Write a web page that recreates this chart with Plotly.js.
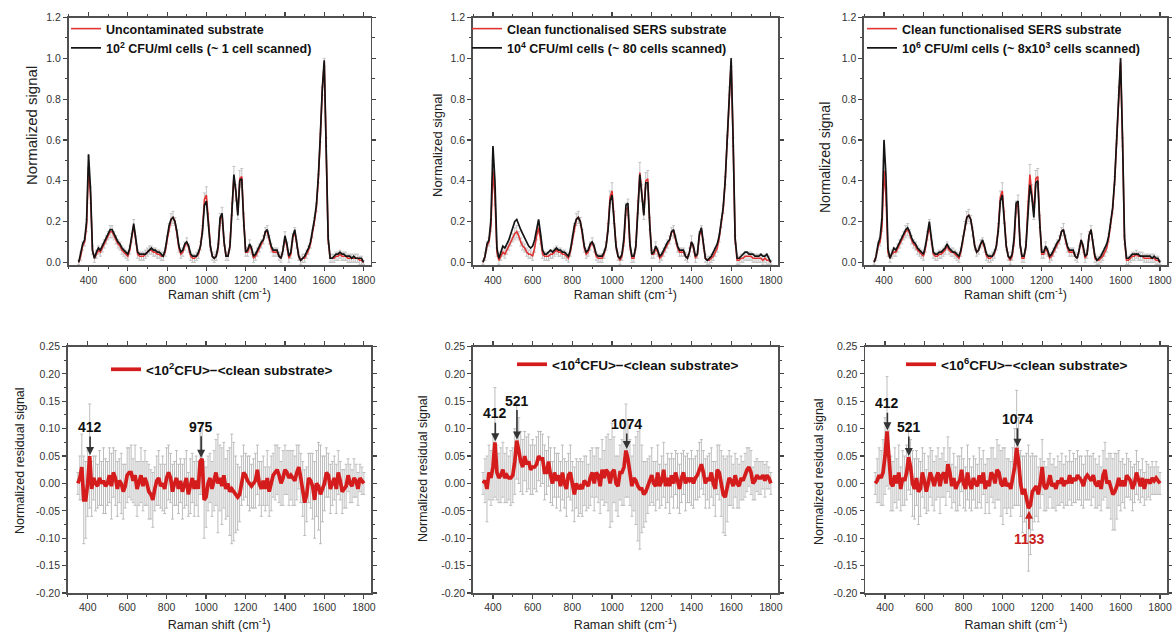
<!DOCTYPE html>
<html>
<head>
<meta charset="utf-8">
<script src="https://cdn.plot.ly/plotly-3.0.1.min.js"></script>
<style>html,body{margin:0;padding:0;background:#fff;}#chart{width:1172px;height:634px;}</style>
</head>
<body>
<div id="chart"></div>
<script>
// Raman shift sample positions (cm-1)
const ramanShift = [
 350,360,370,380,390,400,410,420,430,440,
 450,460,470,480,490,500,510,520,530,540,
 550,560,570,580,590,600,610,620,630,640,
 650,660,670,680,690,700,710,720,730,740,
 750,760,770,780,790,800,810,820,830,840,
 850,860,870,880,890,900,910,920,930,940,
 950,960,970,980,990,1000,1010,1020,1030,1040,
 1050,1060,1070,1080,1090,1100,1110,1120,1130,1140,
 1150,1160,1170,1180,1190,1200,1210,1220,1230,1240,
 1250,1260,1270,1280,1290,1300,1310,1320,1330,1340,
 1350,1360,1370,1380,1390,1400,1410,1420,1430,1440,
 1450,1460,1470,1480,1490,1500,1510,1520,1530,1540,
 1550,1560,1570,1580,1590,1600,1610,1620,1630,1640,
 1650,1660,1670,1680,1690,1700,1710,1720,1730,1740,
 1750,1760,1770,1780,1790,1800];

// Panel 1: uncontaminated substrate vs 10^2 CFU/ml
const uncontaminatedSubstrate = [
 0.00,0.03,0.08,0.10,0.18,0.47,0.33,0.06,0.02,0.04,
 0.06,0.05,0.07,0.09,0.11,0.13,0.15,0.15,0.13,0.11,
 0.09,0.08,0.06,0.05,0.04,0.03,0.06,0.12,0.18,0.11,
 0.04,0.03,0.03,0.03,0.04,0.05,0.06,0.06,0.05,0.05,
 0.04,0.04,0.03,0.03,0.05,0.11,0.17,0.21,0.22,0.20,
 0.14,0.07,0.04,0.05,0.08,0.10,0.07,0.03,0.02,0.02,
 0.03,0.04,0.08,0.16,0.31,0.33,0.21,0.08,0.03,0.02,
 0.03,0.07,0.21,0.23,0.10,0.03,0.03,0.08,0.26,0.42,
 0.34,0.24,0.41,0.42,0.21,0.05,0.05,0.08,0.06,0.02,
 0.03,0.05,0.07,0.09,0.11,0.15,0.15,0.11,0.07,0.05,
 0.05,0.05,0.03,0.02,0.06,0.12,0.08,0.02,0.04,0.12,
 0.15,0.09,0.03,0.01,0.02,0.02,0.04,0.06,0.09,0.14,
 0.20,0.27,0.41,0.61,0.84,0.98,0.59,0.11,0.02,0.02,
 0.02,0.03,0.03,0.04,0.03,0.03,0.03,0.02,0.02,0.02,
 0.02,0.02,0.02,0.01,0.01,0.00];
const cells1e2 = [
 0.00,0.04,0.09,0.11,0.20,0.53,0.36,0.06,0.02,0.05,
 0.07,0.06,0.08,0.10,0.12,0.14,0.16,0.16,0.14,0.12,
 0.10,0.09,0.07,0.06,0.05,0.04,0.07,0.13,0.19,0.12,
 0.05,0.04,0.04,0.04,0.04,0.05,0.06,0.07,0.06,0.06,
 0.05,0.05,0.04,0.03,0.06,0.12,0.18,0.21,0.22,0.20,
 0.15,0.08,0.05,0.06,0.09,0.10,0.08,0.04,0.03,0.03,
 0.03,0.05,0.08,0.15,0.28,0.30,0.20,0.08,0.03,0.02,
 0.03,0.08,0.22,0.24,0.10,0.03,0.03,0.08,0.25,0.43,
 0.35,0.23,0.40,0.41,0.20,0.05,0.06,0.09,0.07,0.03,
 0.04,0.06,0.08,0.10,0.11,0.15,0.16,0.12,0.08,0.06,
 0.06,0.06,0.03,0.02,0.06,0.13,0.09,0.03,0.05,0.13,
 0.16,0.10,0.03,0.01,0.02,0.03,0.05,0.07,0.10,0.15,
 0.21,0.28,0.42,0.62,0.85,0.99,0.60,0.12,0.02,0.02,
 0.03,0.04,0.04,0.05,0.04,0.04,0.03,0.03,0.03,0.02,
 0.03,0.02,0.02,0.02,0.02,0.00];

// Panel 2: clean functionalised substrate vs 10^4 CFU/ml
const cleanSubstrate2 = [
 0.00,0.03,0.08,0.10,0.18,0.45,0.32,0.05,0.01,0.03,
 0.05,0.04,0.06,0.08,0.10,0.12,0.14,0.15,0.13,0.10,
 0.08,0.07,0.05,0.04,0.04,0.03,0.07,0.13,0.17,0.11,
 0.04,0.03,0.03,0.03,0.04,0.04,0.05,0.06,0.05,0.05,
 0.04,0.04,0.03,0.02,0.05,0.11,0.17,0.21,0.22,0.20,
 0.14,0.07,0.04,0.05,0.08,0.10,0.07,0.03,0.02,0.02,
 0.02,0.04,0.08,0.17,0.32,0.35,0.22,0.08,0.03,0.01,
 0.03,0.10,0.26,0.27,0.08,0.02,0.02,0.08,0.27,0.44,
 0.34,0.24,0.40,0.41,0.19,0.04,0.04,0.07,0.05,0.02,
 0.03,0.05,0.07,0.09,0.11,0.15,0.15,0.11,0.07,0.05,
 0.05,0.05,0.03,0.02,0.05,0.10,0.07,0.02,0.04,0.13,
 0.16,0.09,0.02,0.01,0.01,0.02,0.03,0.05,0.07,0.12,
 0.19,0.26,0.40,0.60,0.84,0.98,0.59,0.11,0.01,0.01,
 0.02,0.02,0.03,0.03,0.03,0.03,0.02,0.02,0.02,0.02,
 0.02,0.01,0.02,0.01,0.01,0.00];
const cells1e4 = [
 0.00,0.03,0.09,0.11,0.21,0.57,0.40,0.07,0.02,0.05,
 0.08,0.07,0.09,0.11,0.14,0.17,0.20,0.21,0.18,0.16,
 0.14,0.12,0.10,0.08,0.07,0.08,0.11,0.17,0.21,0.14,
 0.06,0.04,0.04,0.05,0.06,0.05,0.06,0.07,0.06,0.06,
 0.05,0.05,0.04,0.03,0.06,0.12,0.18,0.21,0.22,0.20,
 0.15,0.08,0.05,0.06,0.09,0.10,0.08,0.04,0.03,0.03,
 0.03,0.05,0.08,0.16,0.30,0.33,0.22,0.08,0.03,0.02,
 0.04,0.12,0.28,0.29,0.09,0.03,0.03,0.08,0.25,0.43,
 0.33,0.23,0.39,0.39,0.18,0.04,0.05,0.08,0.06,0.03,
 0.04,0.06,0.08,0.10,0.11,0.15,0.16,0.12,0.08,0.06,
 0.06,0.06,0.03,0.02,0.05,0.10,0.08,0.03,0.04,0.14,
 0.17,0.10,0.02,0.01,0.02,0.03,0.05,0.07,0.09,0.13,
 0.20,0.27,0.40,0.60,0.85,1.00,0.60,0.12,0.02,0.02,
 0.03,0.04,0.05,0.05,0.04,0.04,0.04,0.03,0.03,0.03,
 0.04,0.03,0.03,0.04,0.02,0.00];

// Panel 3: clean functionalised substrate vs 10^6 CFU/ml
const cleanSubstrate3 = [
 0.00,0.03,0.08,0.10,0.18,0.45,0.32,0.05,0.02,0.04,
 0.05,0.05,0.07,0.09,0.11,0.13,0.15,0.16,0.14,0.11,
 0.09,0.08,0.06,0.05,0.04,0.03,0.07,0.13,0.18,0.11,
 0.04,0.03,0.03,0.04,0.04,0.05,0.06,0.08,0.06,0.05,
 0.05,0.04,0.03,0.02,0.05,0.11,0.18,0.22,0.23,0.21,
 0.15,0.08,0.05,0.06,0.09,0.10,0.07,0.03,0.02,0.02,
 0.03,0.04,0.08,0.17,0.32,0.35,0.22,0.08,0.03,0.01,
 0.03,0.10,0.27,0.29,0.09,0.02,0.02,0.08,0.27,0.43,
 0.34,0.24,0.41,0.42,0.20,0.04,0.04,0.07,0.05,0.02,
 0.03,0.05,0.07,0.09,0.11,0.15,0.16,0.11,0.07,0.05,
 0.05,0.05,0.03,0.02,0.06,0.11,0.07,0.02,0.04,0.13,
 0.16,0.09,0.02,0.01,0.01,0.02,0.03,0.05,0.07,0.12,
 0.19,0.26,0.40,0.60,0.84,0.98,0.59,0.11,0.01,0.01,
 0.02,0.03,0.03,0.04,0.03,0.03,0.03,0.02,0.02,0.02,
 0.02,0.02,0.02,0.01,0.01,0.00];
const cells1e6 = [
 0.00,0.03,0.09,0.12,0.22,0.60,0.42,0.07,0.02,0.05,
 0.07,0.06,0.08,0.10,0.12,0.14,0.16,0.17,0.15,0.12,
 0.10,0.09,0.07,0.06,0.05,0.04,0.08,0.14,0.20,0.12,
 0.05,0.04,0.04,0.05,0.05,0.06,0.07,0.09,0.07,0.06,
 0.05,0.05,0.04,0.03,0.06,0.12,0.18,0.22,0.23,0.21,
 0.15,0.08,0.05,0.06,0.09,0.11,0.08,0.04,0.03,0.03,
 0.03,0.05,0.08,0.16,0.30,0.33,0.22,0.08,0.03,0.02,
 0.04,0.12,0.29,0.30,0.09,0.03,0.03,0.08,0.23,0.38,
 0.32,0.22,0.39,0.40,0.19,0.05,0.05,0.08,0.06,0.03,
 0.04,0.06,0.08,0.10,0.11,0.15,0.16,0.12,0.08,0.06,
 0.06,0.06,0.03,0.02,0.06,0.11,0.08,0.03,0.04,0.13,
 0.16,0.10,0.03,0.01,0.02,0.03,0.05,0.07,0.09,0.13,
 0.20,0.27,0.40,0.61,0.85,1.00,0.60,0.12,0.02,0.02,
 0.03,0.04,0.04,0.04,0.04,0.03,0.03,0.03,0.03,0.03,
 0.03,0.02,0.03,0.02,0.02,0.00];

// Standard deviation of the substrate spectra (grey bars, top row)
const substrateErr = [
 0.01,0.02,0.02,0.02,0.03,0.05,0.04,0.02,0.02,0.02,
 0.02,0.02,0.02,0.02,0.02,0.02,0.03,0.03,0.02,0.02,
 0.02,0.02,0.02,0.02,0.02,0.02,0.02,0.02,0.03,0.02,
 0.02,0.02,0.02,0.02,0.02,0.02,0.02,0.02,0.02,0.02,
 0.02,0.02,0.02,0.02,0.02,0.02,0.02,0.03,0.03,0.02,
 0.02,0.02,0.02,0.02,0.02,0.02,0.02,0.02,0.02,0.02,
 0.02,0.02,0.02,0.02,0.03,0.04,0.03,0.02,0.02,0.02,
 0.02,0.02,0.03,0.04,0.02,0.02,0.02,0.02,0.03,0.05,
 0.04,0.03,0.04,0.04,0.03,0.02,0.02,0.03,0.02,0.02,
 0.02,0.02,0.02,0.02,0.02,0.02,0.03,0.02,0.02,0.02,
 0.02,0.02,0.02,0.02,0.02,0.03,0.02,0.02,0.02,0.02,
 0.02,0.02,0.02,0.02,0.02,0.02,0.02,0.02,0.02,0.02,
 0.02,0.02,0.02,0.02,0.02,0.02,0.02,0.02,0.02,0.02,
 0.02,0.02,0.02,0.02,0.02,0.02,0.02,0.02,0.02,0.02,
 0.02,0.02,0.02,0.02,0.02,0.01];

// Residuals <cells> - <clean substrate> and their standard deviation
const residual1e2 = [
 0.000,0.010,0.030,-0.030,-0.030,0.000,0.050,-0.010,0.010,0.000,
 -0.005,0.010,0.000,0.005,-0.005,0.000,0.015,-0.005,0.020,0.010,
 -0.010,0.005,0.000,-0.015,-0.005,0.015,0.020,0.020,0.005,0.015,
 -0.010,0.000,0.015,-0.005,0.010,0.000,-0.015,-0.020,-0.030,-0.010,
 0.005,0.010,-0.005,0.000,-0.010,0.010,0.020,0.010,-0.015,0.000,
 0.010,-0.010,0.005,-0.015,0.000,0.010,-0.020,-0.005,0.010,-0.010,
 0.005,-0.010,0.040,0.045,-0.030,-0.025,0.000,0.010,-0.010,0.005,
 0.020,0.000,0.010,-0.005,0.015,-0.010,0.000,-0.015,-0.010,-0.015,
 -0.020,-0.025,-0.020,0.005,0.020,0.015,0.005,0.000,-0.005,0.000,
 0.005,0.025,0.000,-0.010,0.005,-0.010,0.010,-0.015,0.000,0.015,
 0.020,0.025,0.015,0.000,0.010,0.025,0.020,0.010,0.015,0.010,
 0.005,0.020,0.030,0.010,-0.010,-0.035,-0.020,0.010,0.005,-0.005,
 -0.030,0.000,-0.005,-0.020,-0.010,0.000,0.020,0.015,-0.010,0.000,
 0.010,-0.010,0.020,0.005,-0.015,-0.010,-0.005,0.015,0.000,-0.005,
 0.010,0.005,-0.010,0.010,0.005,0.000];
const residualErr1e2 = [
 0.02,0.04,0.06,0.08,0.07,0.06,0.095,0.05,0.04,0.05,
 0.04,0.05,0.04,0.06,0.05,0.04,0.05,0.06,0.045,0.05,
 0.05,0.04,0.055,0.05,0.04,0.05,0.045,0.05,0.04,0.055,
 0.05,0.04,0.05,0.045,0.05,0.04,0.05,0.045,0.05,0.04,
 0.045,0.05,0.04,0.05,0.045,0.055,0.05,0.045,0.05,0.04,
 0.05,0.045,0.04,0.05,0.045,0.05,0.04,0.05,0.045,0.05,
 0.045,0.05,0.06,0.065,0.07,0.055,0.05,0.045,0.05,0.055,
 0.06,0.09,0.06,0.07,0.06,0.055,0.06,0.08,0.10,0.09,
 0.07,0.06,0.05,0.045,0.05,0.04,0.045,0.05,0.04,0.045,
 0.05,0.045,0.04,0.05,0.045,0.04,0.05,0.045,0.05,0.04,
 0.05,0.045,0.05,0.04,0.05,0.045,0.04,0.05,0.045,0.05,
 0.045,0.05,0.04,0.045,0.05,0.06,0.05,0.045,0.05,0.06,
 0.07,0.06,0.08,0.09,0.06,0.05,0.045,0.04,0.045,0.04,
 0.04,0.045,0.04,0.035,0.04,0.035,0.04,0.03,0.035,0.03,
 0.035,0.03,0.03,0.025,0.025,0.02];
const residual1e4 = [
 0.000,0.005,-0.010,0.020,0.010,0.030,0.075,0.020,0.010,0.015,
 0.025,0.010,0.015,0.010,0.010,0.015,0.040,0.078,0.060,0.040,
 0.030,0.050,0.035,0.040,0.025,0.030,0.030,0.035,0.050,0.045,
 0.045,0.020,0.020,0.040,0.015,0.000,0.020,0.005,0.015,-0.005,
 0.020,0.000,-0.010,0.015,0.020,-0.005,-0.020,0.000,-0.010,-0.005,
 -0.010,0.005,0.000,-0.005,0.010,0.020,0.000,0.020,0.015,-0.005,
 0.025,0.010,0.025,0.020,0.000,0.020,0.025,0.000,-0.005,0.020,
 0.020,0.030,0.060,0.045,0.020,-0.005,0.010,0.005,-0.005,-0.010,
 -0.010,-0.020,-0.015,-0.005,0.005,0.015,0.000,-0.005,0.020,-0.005,
 0.005,0.025,-0.005,0.010,-0.005,0.015,0.000,0.020,0.005,-0.010,
 0.010,0.020,0.000,0.010,0.005,0.010,0.000,0.010,0.015,0.025,
 0.035,0.020,0.000,0.010,0.005,0.020,0.000,-0.010,0.025,0.020,
 0.000,-0.020,-0.025,-0.010,0.010,0.005,-0.005,0.015,0.000,-0.005,
 0.010,0.005,0.015,0.025,0.030,0.020,0.000,0.005,0.015,0.010,
 0.010,0.015,0.005,0.015,0.010,0.000];
const residualErr1e4 = [
 0.02,0.04,0.06,0.05,0.05,0.06,0.10,0.05,0.045,0.05,
 0.05,0.045,0.05,0.04,0.05,0.05,0.06,0.07,0.06,0.055,
 0.05,0.045,0.05,0.05,0.045,0.05,0.04,0.05,0.045,0.05,
 0.045,0.05,0.04,0.045,0.05,0.04,0.045,0.05,0.04,0.045,
 0.05,0.045,0.05,0.04,0.05,0.045,0.05,0.045,0.05,0.05,
 0.05,0.045,0.05,0.04,0.05,0.045,0.05,0.045,0.05,0.05,
 0.055,0.05,0.06,0.07,0.08,0.09,0.06,0.05,0.055,0.05,
 0.06,0.07,0.085,0.07,0.06,0.055,0.06,0.08,0.10,0.11,
 0.08,0.06,0.055,0.05,0.045,0.05,0.04,0.045,0.05,0.04,
 0.045,0.05,0.04,0.045,0.05,0.04,0.045,0.04,0.05,0.045,
 0.045,0.04,0.05,0.045,0.04,0.05,0.045,0.04,0.045,0.05,
 0.045,0.04,0.045,0.04,0.05,0.045,0.04,0.05,0.045,0.05,
 0.06,0.07,0.07,0.06,0.05,0.045,0.04,0.04,0.045,0.04,
 0.04,0.035,0.04,0.04,0.035,0.04,0.03,0.035,0.03,0.03,
 0.03,0.025,0.03,0.025,0.02,0.02];
const residual1e6 = [
 0.000,0.005,0.015,0.010,0.020,0.050,0.095,0.050,0.000,-0.005,
 0.015,0.000,0.020,-0.010,0.010,0.005,0.020,0.048,0.030,0.000,
 -0.010,0.010,-0.015,-0.010,0.020,0.005,-0.015,0.000,0.020,0.010,
 -0.005,0.010,0.020,-0.005,0.015,0.020,0.000,0.035,0.020,-0.005,
 0.010,-0.010,0.000,0.005,0.025,0.000,-0.010,0.020,0.000,-0.010,
 0.010,0.000,-0.005,0.015,0.000,0.020,-0.010,0.005,-0.005,0.020,
 0.015,0.000,0.025,0.020,0.000,-0.005,0.010,-0.005,0.000,-0.010,
 0.010,0.030,0.065,0.040,0.000,-0.020,-0.010,-0.025,-0.045,-0.040,
 -0.015,-0.010,-0.005,-0.020,0.000,0.030,-0.005,-0.010,0.000,0.015,
 -0.005,0.000,-0.010,0.005,0.000,0.010,-0.005,0.005,0.000,0.015,
 0.000,0.010,0.005,0.015,0.010,0.005,-0.005,0.010,0.015,0.010,
 0.005,0.015,0.000,-0.005,0.005,-0.010,0.015,0.025,0.000,0.005,
 -0.005,-0.020,-0.015,-0.005,0.010,-0.005,0.005,-0.005,0.015,0.010,
 0.005,-0.010,0.000,0.020,0.005,-0.005,0.010,-0.010,0.005,0.005,
 0.000,0.010,0.005,0.010,0.005,0.000];
const residualErr1e6 = [
 0.02,0.04,0.05,0.05,0.06,0.07,0.10,0.06,0.05,0.045,
 0.05,0.045,0.05,0.04,0.05,0.045,0.05,0.06,0.05,0.06,
 0.055,0.05,0.06,0.05,0.045,0.05,0.04,0.05,0.045,0.05,
 0.045,0.04,0.045,0.05,0.04,0.045,0.04,0.05,0.045,0.04,
 0.045,0.04,0.05,0.045,0.04,0.045,0.04,0.05,0.045,0.04,
 0.04,0.045,0.04,0.05,0.045,0.04,0.045,0.04,0.05,0.045,
 0.05,0.045,0.055,0.05,0.06,0.07,0.055,0.05,0.045,0.05,
 0.055,0.07,0.105,0.08,0.06,0.07,0.06,0.08,0.115,0.09,
 0.07,0.06,0.055,0.05,0.045,0.05,0.045,0.04,0.045,0.04,
 0.04,0.045,0.04,0.045,0.04,0.045,0.04,0.045,0.04,0.045,
 0.04,0.045,0.04,0.045,0.04,0.045,0.04,0.04,0.045,0.04,
 0.045,0.04,0.045,0.04,0.045,0.04,0.045,0.05,0.045,0.05,
 0.06,0.065,0.07,0.06,0.05,0.045,0.04,0.04,0.04,0.035,
 0.035,0.04,0.035,0.04,0.035,0.03,0.035,0.03,0.035,0.03,
 0.03,0.03,0.025,0.03,0.025,0.02];

// Tick labels
const xTickVals = [400,600,800,1000,1200,1400,1600,1800];
const topTickVals = [0,0.2,0.4,0.6,0.8,1.0,1.2];
const topTickText = ['0.0','0.2','0.4','0.6','0.8','1.0','1.2'];
const resTickVals = [-0.20,-0.15,-0.10,-0.05,0,0.05,0.10,0.15,0.20,0.25];
const resTickText = ['-0.20','-0.15','-0.10','-0.05','0.00','0.05','0.10','0.15','0.20','0.25'];

// Legend names
const topNames = [
  ['Uncontaminated substrate','10<sup>2</sup> CFU/ml cells (~ 1 cell scanned)'],
  ['Clean functionalised SERS substrate','10<sup>4</sup> CFU/ml cells (~ 80 cells scanned)'],
  ['Clean functionalised SERS substrate','10<sup>6</sup> CFU/ml cells (~ 8x10<sup>3</sup> cells scanned)']
];
const residualNames = [
  '&lt;10<sup>2</sup>CFU&gt;\u2212&lt;clean substrate&gt;',
  '&lt;10<sup>4</sup>CFU&gt;\u2212&lt;clean substrate&gt;',
  '&lt;10<sup>6</sup>CFU&gt;\u2212&lt;clean substrate&gt;'
];
// Peak labels: [panel, position, label, value at tip]
const peakLabels = [
  [0, 412, '412', 0.052], [0, 975, '975', 0.047],
  [1, 412, '412', 0.077], [1, 521, '521', 0.080], [1, 1074, '1074', 0.063],
  [2, 412, '412', 0.097], [2, 521, '521', 0.050], [2, 1074, '1074', 0.067]
];
const negPeakLabels = [[2, 1133, '1133', -0.050]];

const FONT = 'Liberation Sans, Arial, sans-serif';
const topSub = [uncontaminatedSubstrate, cleanSubstrate2, cleanSubstrate3];
const topCells = [cells1e2, cells1e4, cells1e6];
const residuals = [residual1e2, residual1e4, residual1e6];
const residualErrs = [residualErr1e2, residualErr1e4, residualErr1e6];

const traces = [];
for (let p = 0; p < 3; p++) {
  const ax = p === 0 ? '' : String(p + 1);
  const lg = p === 0 ? 'legend' : 'legend' + (p + 1);
  traces.push({
    x: ramanShift, y: topSub[p], xaxis: 'x' + ax, yaxis: 'y' + ax, legend: lg,
    type: 'scatter', mode: 'lines', name: topNames[p][0],
    line: {color: '#e03434', width: 1.6},
    error_y: {type: 'data', array: substrateErr, visible: true, color: '#c4c4c4', thickness: 1, width: 1.5}
  });
  traces.push({
    x: ramanShift, y: topCells[p], xaxis: 'x' + ax, yaxis: 'y' + ax, legend: lg,
    type: 'scatter', mode: 'lines', name: topNames[p][1],
    line: {color: '#141414', width: 1.7}
  });
}
for (let p = 0; p < 3; p++) {
  const ax = String(p + 4);
  traces.push({
    x: ramanShift, y: residuals[p], xaxis: 'x' + ax, yaxis: 'y' + ax, legend: 'legend' + ax,
    type: 'scatter', mode: 'lines', name: residualNames[p],
    line: {color: '#d41c1c', width: 3.7},
    error_y: {type: 'data', array: residualErrs[p], visible: true, color: '#bdbdbd', thickness: 1, width: 1.5}
  });
}

const W = 1172, H = 634;
const xDom = [[68.5, 370.6], [472.7, 778], [863.9, 1167.1], [67.6, 371], [472.7, 778], [865, 1167.1]];
const yTopDom = [1 - 265.4 / H, 1 - 17.5 / H];
const yBotDom = [1 - 593 / H, 1 - 346.5 / H];

function xAxis(i) {
  return {
    domain: [xDom[i][0] / W, xDom[i][1] / W], range: [298, 1836],
    anchor: i === 0 ? 'y' : 'y' + (i + 1),
    tickmode: 'array', tickvals: xTickVals,
    ticks: 'outside', ticklen: 4, tickwidth: 1.2, tickcolor: '#444',
    minor: {tickmode: 'linear', tick0: 300, dtick: 100, ticks: 'outside', ticklen: 2.5, tickcolor: '#444', tickwidth: 1},
    showline: true, linecolor: '#505050', linewidth: 1.5, mirror: 'ticks',
    showgrid: false, zeroline: false,
    tickfont: {family: FONT, size: 10.5, color: '#333'},
    title: {text: 'Raman shift (cm<sup>-1</sup>)', font: {family: FONT, size: 12.5, color: '#222'}, standoff: i < 3 ? 3 : 8}
  };
}
function yAxis(i) {
  const top = i < 3;
  return {
    domain: top ? yTopDom : yBotDom,
    range: top ? [-0.015, 1.2] : [-0.2, 0.25],
    anchor: i === 0 ? 'x' : 'x' + (i + 1),
    tickmode: 'array', tickvals: top ? topTickVals : resTickVals, ticktext: top ? topTickText : resTickText,
    ticks: 'outside', ticklen: 4, tickwidth: 1.2, tickcolor: '#444',
    minor: top ? {tickmode: 'linear', tick0: 0, dtick: 0.1, ticks: 'outside', ticklen: 2.5, tickcolor: '#444', tickwidth: 1}
               : {tickmode: 'linear', tick0: -0.2, dtick: 0.025, ticks: 'outside', ticklen: 2.5, tickcolor: '#444', tickwidth: 1},
    showline: true, linecolor: '#505050', linewidth: 1.5, mirror: 'ticks',
    showgrid: false, zeroline: false,
    tickfont: {family: FONT, size: 10.5, color: '#333'}
  };
}

const layout = {
  width: W, height: H, margin: {l: 0, r: 0, t: 0, b: 0},
  paper_bgcolor: '#ffffff', plot_bgcolor: '#ffffff',
  showlegend: true, annotations: []
};
for (let i = 0; i < 6; i++) {
  const s = i === 0 ? '' : String(i + 1);
  layout['xaxis' + s] = xAxis(i);
  layout['yaxis' + s] = yAxis(i);
}
const legendPos = [[66, 14], [467, 14], [862, 14], [106, 354], [512, 349], [901, 349]];
for (let i = 0; i < 6; i++) {
  const s = i === 0 ? '' : String(i + 1);
  layout['legend' + s] = {
    x: legendPos[i][0] / W, y: 1 - legendPos[i][1] / H, xanchor: 'left', yanchor: 'top',
    bgcolor: 'rgba(0,0,0,0)', borderwidth: 0, tracegroupgap: 0, traceorder: 'normal',
    font: {family: FONT, size: i < 3 ? 12.5 : 13.5, color: '#111', weight: 'bold'}
  };
}

// y-axis titles as rotated text
const yTitles = [
  ['Normalized signal', 32, 126, 15], ['Normalized signal', 437, 146, 13], ['Normalized signal', 825, 158, 14],
  ['Normalized residual signal', 20, 461, 12.5], ['Normalized residual signal', 423, 469, 12.5], ['Normalized residual signal', 819, 472, 12.5]
];
yTitles.forEach(t => layout.annotations.push({
  text: t[0], xref: 'paper', yref: 'paper', x: t[1] / W, y: 1 - t[2] / H,
  textangle: -90, showarrow: false, xanchor: 'center', yanchor: 'middle',
  font: {family: FONT, size: t[3], color: '#222'}
}));

const panelAy = {'0-412': -28, '0-975': -31, '1-412': -28, '1-521': -39, '1-1074': -25, '2-412': -27, '2-521': -29, '2-1074': -28};
peakLabels.forEach(pk => {
  const s = String(pk[0] + 4);
  layout.annotations.push({
    text: '<b>' + pk[2] + '</b>', xref: 'x' + s, yref: 'y' + s, x: pk[1], y: pk[3],
    showarrow: true, ax: 0, ay: panelAy[pk[0] + '-' + pk[2]], arrowhead: 2, arrowsize: 1, arrowwidth: 1.6,
    arrowcolor: '#333', standoff: 0, font: {family: FONT, size: 14, color: '#111'}
  });
});
negPeakLabels.forEach(pk => {
  const s = String(pk[0] + 4);
  layout.annotations.push({
    text: '<b>' + pk[2] + '</b>', xref: 'x' + s, yref: 'y' + s, x: pk[1], y: pk[3],
    showarrow: true, ax: 0, ay: 28, arrowhead: 2, arrowsize: 1, arrowwidth: 1.6,
    arrowcolor: '#c81e1e', standoff: 0, font: {family: FONT, size: 14, color: '#c81e1e'}
  });
});

Plotly.newPlot('chart', traces, layout, {staticPlot: true, displayModeBar: false});
</script>
</body>
</html>
